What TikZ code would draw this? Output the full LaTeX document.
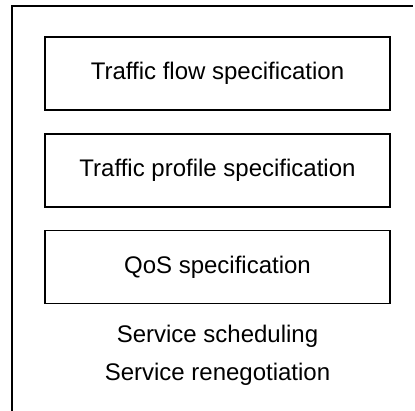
\documentclass[tikz,border=0pt]{standalone}
\usepackage{fontspec}
\setmainfont{Liberation Sans}
\begin{document}
\begin{tikzpicture}[x=1pt,y=-1pt,
  specbox/.style={draw=black, line width=1.6pt, minimum width=345pt, minimum height=73pt,
    inner sep=0pt, font=\fontsize{24}{29}\selectfont},
  note/.style={anchor=base, inner sep=0pt, font=\fontsize{24}{29}\selectfont}]
  \useasboundingbox (0,0) rectangle (415,410);
  % open outer frame (left and top sides)
  \coordinate (frameBL) at (12,411);
  \coordinate (frameTL) at (12,6);
  \coordinate (frameTR) at (413,6);
  \draw[line width=1.8pt] (frameBL) -- (frameTL) -- (frameTR);
  % specification boxes
  \node[specbox] (flow)    at (217.5,73.5)  {Traffic flow specification};
  \node[specbox] (profile) at (217.5,170.5) {Traffic profile specification};
  \node[specbox] (qos)     at (217.5,267)   {QoS specification};
  % service lines
  \node[note] (sched) at (217.5,342) {Service scheduling};
  \node[note] (reneg) at (217.5,380) {Service renegotiation};
\end{tikzpicture}
\end{document}
